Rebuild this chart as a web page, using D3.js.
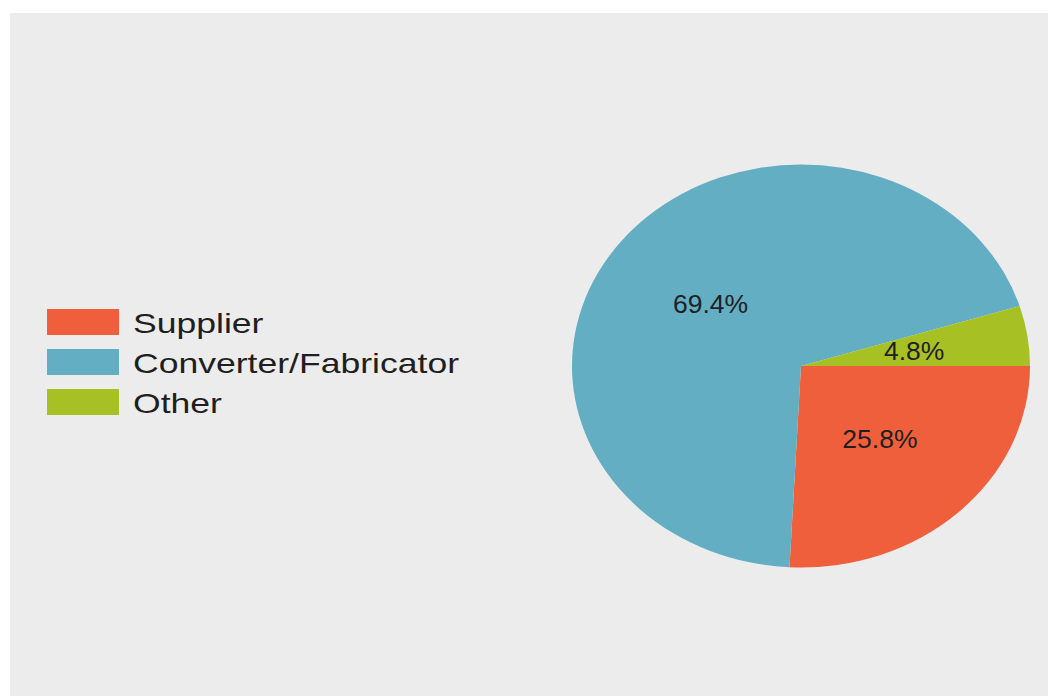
<!DOCTYPE html>
<html>
<head>
<meta charset="utf-8">
<script src="https://cdn.jsdelivr.net/npm/d3@7"></script>
<style>
  html, body { margin: 0; padding: 0; background: #ffffff; }
  svg { display: block; }
  text { font-family: "Liberation Sans", Arial, sans-serif; fill: #1f1f1f; }
</style>
</head>
<body>
<svg id="chart" width="1050" height="696"></svg>
<script>
// Share of respondents by role
const categories = ["Supplier", "Converter/Fabricator", "Other"];
const shares = [25.8, 69.4, 4.8];
const colors = ["#ef5f3c", "#64aec4", "#a7c124"];

const W = 1050, H = 696;
const svg = d3.select("#chart");

// panel background
svg.append("rect")
  .attr("x", 10).attr("y", 13)
  .attr("width", W - 12).attr("height", H - 13)
  .attr("fill", "#ececec");

// pie geometry (drawn slightly wider than tall)
const cx = 801, cy = 366, ry = 201.5, rx = 229;
const sx = rx / ry;

const color = d3.scaleOrdinal().domain(categories).range(colors);

const data = categories.map((c, i) => ({ name: c, value: shares[i] }));

const pie = d3.pie()
  .sort(null)
  .value(d => d.value)
  .startAngle(Math.PI / 2)
  .endAngle(Math.PI / 2 + 2 * Math.PI);

const arc = d3.arc().innerRadius(0).outerRadius(ry);
const arcs = pie(data);

const pieG = svg.append("g")
  .attr("transform", `translate(${cx},${cy}) scale(${sx},1)`);

pieG.selectAll("path")
  .data(arcs)
  .join("path")
  .attr("d", arc)
  .attr("fill", d => color(d.data.name));

// percentage labels at slice centroids
svg.append("g").selectAll("text")
  .data(arcs)
  .join("text")
  .attr("transform", d =>
    `translate(${cx + arc.centroid(d)[0] * sx},${cy + arc.centroid(d)[1]}) scale(1.02,1)`)
  .attr("text-anchor", "middle")
  .attr("dominant-baseline", "central")
  .attr("font-size", 26)
  .text(d => d.data.value.toFixed(1) + "%");

// legend
const row = d3.scalePoint().domain(categories).range([309, 389]);
const legend = svg.append("g").selectAll("g")
  .data(categories)
  .join("g")
  .attr("transform", d => `translate(47,${row(d)})`);

legend.append("rect")
  .attr("width", 72).attr("height", 26)
  .attr("fill", d => color(d));

legend.append("text")
  .attr("transform", "translate(86,24) scale(1.27,1)")
  .attr("font-size", 28)
  .text(d => d);
</script>
</body>
</html>
